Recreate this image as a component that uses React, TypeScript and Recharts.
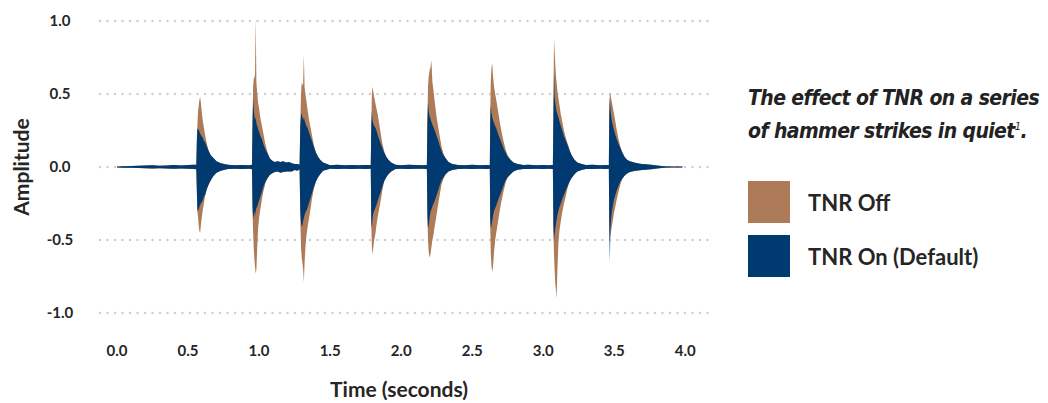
import { Area, CartesianGrid, ComposedChart, Label, Legend, XAxis, YAxis } from 'recharts';

// envelope of the waveform: time (s) and min / max amplitude per series
const TIME = [
  0, 0.05, 0.1, 0.15, 0.2, 0.25, 0.3, 0.35, 0.4, 0.45, 0.5, 0.54, 0.558,
  0.562, 0.566, 0.57, 0.575, 0.58, 0.585, 0.59, 0.596, 0.603, 0.611, 0.62, 0.632, 0.645, 0.66, 0.68, 0.7, 0.73,
  0.78, 0.83, 0.88, 0.93, 0.95,
  0.954, 0.958, 0.962, 0.966, 0.971, 0.976, 0.981, 0.987, 0.993, 1.0, 1.01, 1.02, 1.032, 1.045, 1.06, 1.075, 1.09, 1.11, 1.13, 1.15, 1.17, 1.19, 1.21, 1.23, 1.25, 1.27, 1.285,
  1.29, 1.295, 1.3, 1.305, 1.31, 1.315, 1.32, 1.326, 1.333, 1.34, 1.35, 1.36, 1.372, 1.385, 1.4, 1.415, 1.43, 1.45, 1.5, 1.55, 1.6, 1.65, 1.7, 1.75, 1.786,
  1.79, 1.794, 1.798, 1.803, 1.81, 1.818, 1.826, 1.835, 1.845, 1.856, 1.868, 1.88, 1.895, 1.91, 1.93, 1.96, 2.0, 2.05, 2.1, 2.15, 2.181,
  2.185, 2.189, 2.194, 2.2, 2.206, 2.213, 2.22, 2.228, 2.237, 2.247, 2.258, 2.27, 2.284, 2.298, 2.313, 2.333, 2.36, 2.4, 2.45, 2.5, 2.55, 2.6, 2.624,
  2.627, 2.631, 2.636, 2.641, 2.647, 2.654, 2.662, 2.671, 2.681, 2.692, 2.705, 2.72, 2.735, 2.75, 2.77, 2.79, 2.82, 2.86, 2.9, 2.95, 3.0, 3.04, 3.068,
  3.072, 3.076, 3.08, 3.085, 3.09, 3.094, 3.1, 3.107, 3.115, 3.124, 3.134, 3.146, 3.159, 3.172, 3.186, 3.2, 3.22, 3.24, 3.27, 3.3, 3.35, 3.4, 3.44, 3.462,
  3.465, 3.469, 3.473, 3.478, 3.484, 3.491, 3.499, 3.508, 3.518, 3.53, 3.543, 3.557, 3.572, 3.59, 3.61, 3.64, 3.68, 3.72, 3.76, 3.8, 3.85, 3.9, 3.95, 3.98
];

const OFF_HIGH = [
  0.004, 0.005, 0.006, 0.008, 0.01, 0.012, 0.009, 0.011, 0.014, 0.01, 0.013, 0.016, 0.015,
  0.2, 0.3, 0.38, 0.42, 0.46, 0.48, 0.44, 0.38, 0.32, 0.27, 0.22, 0.16, 0.11, 0.08, 0.06, 0.04, 0.025,
  0.015, 0.012, 0.014, 0.012, 0.015,
  0.35, 0.55, 0.6, 0.63, 0.6, 1.02, 0.58, 0.5, 0.44, 0.4, 0.33, 0.28, 0.22, 0.15, 0.1, 0.06, 0.045, 0.035, 0.04, 0.035, 0.04, 0.03, 0.035, 0.025, 0.02, 0.02, 0.015,
  0.3, 0.5, 0.58, 0.56, 0.57, 0.77, 0.55, 0.5, 0.45, 0.4, 0.33, 0.28, 0.22, 0.15, 0.1, 0.07, 0.05, 0.03, 0.012, 0.015, 0.012, 0.014, 0.012, 0.013, 0.013,
  0.3, 0.5, 0.55, 0.52, 0.48, 0.44, 0.4, 0.36, 0.3, 0.23, 0.16, 0.11, 0.07, 0.05, 0.03, 0.015, 0.012, 0.015, 0.013, 0.012, 0.013,
  0.35, 0.55, 0.62, 0.66, 0.68, 0.73, 0.58, 0.52, 0.44, 0.36, 0.29, 0.22, 0.14, 0.09, 0.06, 0.035, 0.02, 0.014, 0.012, 0.015, 0.012, 0.013, 0.012,
  0.35, 0.6, 0.68, 0.71, 0.62, 0.55, 0.5, 0.45, 0.39, 0.32, 0.25, 0.18, 0.12, 0.08, 0.05, 0.03, 0.02, 0.013, 0.015, 0.012, 0.014, 0.012, 0.013,
  0.4, 0.88, 0.8, 0.7, 0.62, 0.58, 0.52, 0.47, 0.42, 0.36, 0.31, 0.25, 0.2, 0.16, 0.12, 0.08, 0.05, 0.03, 0.02, 0.013, 0.015, 0.012, 0.013, 0.012,
  0.35, 0.51, 0.5, 0.47, 0.44, 0.4, 0.36, 0.31, 0.25, 0.19, 0.14, 0.1, 0.07, 0.05, 0.04, 0.03, 0.022, 0.018, 0.015, 0.01, 0.005, 0.004, 0.003, 0.003
];

const OFF_LOW = [
  -0.004, -0.005, -0.005, -0.007, -0.009, -0.01, -0.008, -0.01, -0.012, -0.01, -0.012, -0.014, -0.015,
  -0.18, -0.31, -0.34, -0.4, -0.44, -0.45, -0.4, -0.35, -0.3, -0.25, -0.2, -0.15, -0.12, -0.09, -0.06, -0.04, -0.025,
  -0.014, -0.012, -0.013, -0.012, -0.015,
  -0.3, -0.45, -0.55, -0.62, -0.68, -0.73, -0.7, -0.55, -0.42, -0.35, -0.28, -0.22, -0.16, -0.11, -0.075, -0.055, -0.045, -0.035, -0.03, -0.04, -0.035, -0.03, -0.03, -0.03, -0.02, -0.025, -0.015,
  -0.35, -0.55, -0.62, -0.66, -0.7, -0.79, -0.66, -0.55, -0.47, -0.42, -0.36, -0.3, -0.22, -0.15, -0.1, -0.07, -0.05, -0.025, -0.012, -0.014, -0.012, -0.013, -0.012, -0.013, -0.012,
  -0.4, -0.55, -0.6, -0.56, -0.5, -0.46, -0.4, -0.34, -0.29, -0.23, -0.16, -0.1, -0.07, -0.05, -0.03, -0.014, -0.012, -0.013, -0.012, -0.012, -0.013,
  -0.35, -0.5, -0.58, -0.62, -0.6, -0.55, -0.5, -0.46, -0.4, -0.34, -0.27, -0.2, -0.12, -0.08, -0.05, -0.03, -0.02, -0.013, -0.012, -0.014, -0.012, -0.013, -0.012,
  -0.4, -0.6, -0.68, -0.72, -0.68, -0.58, -0.5, -0.44, -0.38, -0.31, -0.24, -0.17, -0.11, -0.07, -0.05, -0.03, -0.018, -0.013, -0.014, -0.012, -0.013, -0.012, -0.013,
  -0.45, -0.6, -0.7, -0.8, -0.85, -0.9, -0.7, -0.52, -0.43, -0.37, -0.31, -0.25, -0.2, -0.14, -0.1, -0.075, -0.05, -0.03, -0.02, -0.013, -0.014, -0.012, -0.013, -0.012,
  -0.4, -0.5, -0.47, -0.44, -0.4, -0.36, -0.31, -0.27, -0.22, -0.17, -0.12, -0.08, -0.06, -0.045, -0.035, -0.028, -0.022, -0.018, -0.015, -0.01, -0.005, -0.004, -0.003, -0.003
];

const ON_HIGH = [
  0.004, 0.005, 0.006, 0.008, 0.01, 0.012, 0.009, 0.011, 0.014, 0.01, 0.013, 0.016, 0.015,
  0.18, 0.27, 0.25, 0.26, 0.24, 0.23, 0.22, 0.21, 0.2, 0.18, 0.17, 0.14, 0.11, 0.08, 0.06, 0.04, 0.025,
  0.015, 0.012, 0.014, 0.012, 0.015,
  0.3, 0.47, 0.4, 0.36, 0.32, 0.34, 0.3, 0.28, 0.26, 0.24, 0.21, 0.19, 0.15, 0.12, 0.09, 0.06, 0.045, 0.035, 0.04, 0.035, 0.04, 0.03, 0.035, 0.025, 0.02, 0.02, 0.015,
  0.28, 0.35, 0.37, 0.34, 0.32, 0.34, 0.32, 0.3, 0.28, 0.27, 0.24, 0.21, 0.18, 0.14, 0.1, 0.07, 0.05, 0.03, 0.012, 0.015, 0.012, 0.014, 0.012, 0.013, 0.013,
  0.28, 0.38, 0.32, 0.3, 0.28, 0.27, 0.25, 0.22, 0.19, 0.16, 0.13, 0.1, 0.07, 0.05, 0.03, 0.015, 0.012, 0.015, 0.013, 0.012, 0.013,
  0.3, 0.44, 0.38, 0.35, 0.33, 0.31, 0.29, 0.27, 0.25, 0.22, 0.19, 0.15, 0.11, 0.08, 0.06, 0.035, 0.02, 0.014, 0.012, 0.015, 0.012, 0.013, 0.012,
  0.3, 0.42, 0.37, 0.34, 0.32, 0.3, 0.28, 0.26, 0.23, 0.2, 0.17, 0.13, 0.1, 0.07, 0.05, 0.03, 0.02, 0.013, 0.015, 0.012, 0.014, 0.012, 0.013,
  0.35, 0.65, 0.48, 0.44, 0.4, 0.38, 0.36, 0.34, 0.31, 0.28, 0.25, 0.21, 0.18, 0.15, 0.11, 0.08, 0.05, 0.03, 0.02, 0.013, 0.015, 0.012, 0.013, 0.012,
  0.35, 0.48, 0.4, 0.35, 0.31, 0.28, 0.25, 0.22, 0.19, 0.16, 0.13, 0.1, 0.07, 0.05, 0.04, 0.03, 0.022, 0.018, 0.015, 0.01, 0.005, 0.004, 0.003, 0.003
];

const ON_LOW = [
  -0.004, -0.005, -0.005, -0.007, -0.009, -0.01, -0.008, -0.01, -0.012, -0.01, -0.012, -0.014, -0.015,
  -0.17, -0.31, -0.28, -0.3, -0.27, -0.26, -0.25, -0.24, -0.23, -0.2, -0.19, -0.15, -0.12, -0.09, -0.06, -0.04, -0.025,
  -0.014, -0.012, -0.013, -0.012, -0.015,
  -0.28, -0.36, -0.33, -0.3, -0.34, -0.3, -0.28, -0.27, -0.25, -0.23, -0.2, -0.17, -0.13, -0.1, -0.075, -0.055, -0.045, -0.035, -0.03, -0.04, -0.035, -0.03, -0.03, -0.03, -0.02, -0.025, -0.015,
  -0.3, -0.38, -0.41, -0.4, -0.37, -0.35, -0.33, -0.31, -0.3, -0.28, -0.25, -0.22, -0.18, -0.14, -0.1, -0.07, -0.05, -0.025, -0.012, -0.014, -0.012, -0.013, -0.012, -0.013, -0.012,
  -0.38, -0.42, -0.36, -0.32, -0.3, -0.28, -0.26, -0.23, -0.2, -0.17, -0.13, -0.1, -0.07, -0.05, -0.03, -0.014, -0.012, -0.013, -0.012, -0.012, -0.013,
  -0.33, -0.42, -0.4, -0.35, -0.31, -0.29, -0.27, -0.25, -0.23, -0.2, -0.17, -0.13, -0.09, -0.07, -0.05, -0.03, -0.02, -0.013, -0.012, -0.014, -0.012, -0.013, -0.012,
  -0.35, -0.42, -0.4, -0.37, -0.33, -0.3, -0.28, -0.26, -0.23, -0.2, -0.17, -0.13, -0.09, -0.07, -0.05, -0.03, -0.018, -0.013, -0.014, -0.012, -0.013, -0.012, -0.013,
  -0.4, -0.51, -0.46, -0.42, -0.39, -0.36, -0.33, -0.3, -0.27, -0.25, -0.22, -0.19, -0.16, -0.13, -0.1, -0.075, -0.05, -0.03, -0.02, -0.013, -0.014, -0.012, -0.013, -0.012,
  -0.4, -0.65, -0.42, -0.35, -0.3, -0.26, -0.22, -0.19, -0.16, -0.13, -0.1, -0.08, -0.06, -0.045, -0.035, -0.028, -0.022, -0.018, -0.015, -0.01, -0.005, -0.004, -0.003, -0.003
];

const X_TICKS = [0, 0.5, 1, 1.5, 2, 2.5, 3, 3.5, 4];
const Y_TICKS = [-1, -0.5, 0, 0.5, 1];

const SERIES = [
  { key: 'off', name: 'TNR Off', color: '#ad7b57' },
  { key: 'on', name: 'TNR On (Default)', color: '#013a70' }
];

const TITLE_LINES = ['The effect of TNR on a series', 'of hammer strikes in quiet'];

const FONT = 'Lato, "Open Sans", sans-serif';
const TEXT = '#262626';

const data = TIME.map((t, i) => ({
  t,
  off: [OFF_LOW[i], OFF_HIGH[i]],
  on: [ON_LOW[i], ON_HIGH[i]]
}));

function XTick({ x, y, payload }: any) {
  return (
    <text x={x} y={y} dy="0.71em" textAnchor="middle" fontFamily={FONT} fontWeight={700} fontSize={15} fill={TEXT}>
      {payload.value.toFixed(1)}
    </text>
  );
}

function YTick({ x, y, payload }: any) {
  return (
    <text x={x} y={y} dy="0.36em" textAnchor="middle" fontFamily={FONT} fontWeight={700} fontSize={15} fill={TEXT}>
      {payload.value.toFixed(1)}
    </text>
  );
}

function LegendBox() {
  return (
    <div style={{ fontFamily: FONT, color: TEXT, textAlign: 'left' }}>
      <div
        style={{
          fontFamily: '"DejaVu Sans Condensed", "DejaVu Sans", sans-serif',
          fontStyle: 'italic',
          fontWeight: 700,
          fontSize: 21,
          letterSpacing: -0.6,
          lineHeight: '28.5px',
          whiteSpace: 'nowrap',
          color: '#222'
        }}
      >
        <div>{TITLE_LINES[0]}</div>
        <div>
          {TITLE_LINES[1]}
          <sup style={{ fontSize: 11, fontWeight: 400 }}>1</sup>.
        </div>
      </div>
      <div style={{ marginTop: 36 }}>
        {SERIES.map((s) => (
          <div key={s.key} style={{ display: 'flex', alignItems: 'center', height: 42, marginBottom: 12 }}>
            <div style={{ width: 42, height: 42, background: s.color }} />
            <span style={{ marginLeft: 18, fontSize: 22, fontWeight: 700, whiteSpace: 'nowrap' }}>{s.name}</span>
          </div>
        ))}
      </div>
    </div>
  );
}

export default function App() {
  return (
    <div style={{ position: 'absolute', left: 0, top: 0, width: 1048, height: 403, background: '#fff' }}>
      <ComposedChart width={1048} height={403} data={data} margin={{ top: 21, right: 340, bottom: 0, left: 0 }}>
        <CartesianGrid
          vertical={false}
          stroke="#cfcfcf"
          strokeWidth={2.5}
          strokeDasharray="0 7.5"
          strokeLinecap="round"
        />
        <XAxis
          type="number"
          dataKey="t"
          domain={[-0.12, 4.16]}
          ticks={X_TICKS}
          allowDataOverflow
          axisLine={false}
          tickLine={false}
          tickSize={0}
          tickMargin={32}
          height={90}
          tick={<XTick />}
        >
          <Label
            content={({ viewBox }: any) => (
              <text
                x={viewBox.x + viewBox.width / 2 - 5}
                y={viewBox.y + 84}
                textAnchor="middle"
                fontFamily={FONT}
                fontWeight={700}
                fontSize={21}
                fill={TEXT}
              >
                Time (seconds)
              </text>
            )}
          />
        </XAxis>
        <YAxis
          type="number"
          domain={[-1, 1]}
          ticks={Y_TICKS}
          allowDataOverflow
          axisLine={false}
          tickLine={false}
          tickSize={0}
          tickMargin={40}
          width={100}
          tick={<YTick />}
        >
          <Label
            content={({ viewBox }: any) => {
              const cx = 21;
              const cy = viewBox.y + viewBox.height / 2;
              return (
                <text
                  x={cx}
                  y={cy}
                  dy="0.36em"
                  transform={`rotate(-90 ${cx} ${cy})`}
                  textAnchor="middle"
                  fontFamily={FONT}
                  fontWeight={700}
                  fontSize={21}
                  fill={TEXT}
                >
                  Amplitude
                </text>
              );
            }}
          />
        </YAxis>
        {SERIES.map((s) => (
          <Area
            key={s.key}
            type="linear"
            dataKey={s.key}
            name={s.name}
            stroke="none"
            fill={s.color}
            fillOpacity={1}
            dot={false}
            activeDot={false}
            isAnimationActive={false}
          />
        ))}
        <Legend
          layout="horizontal"
          verticalAlign="middle"
          align="center"
          content={<LegendBox />}
          wrapperStyle={{ left: 748, top: 84, width: 300 }}
        />
      </ComposedChart>
    </div>
  );
}
